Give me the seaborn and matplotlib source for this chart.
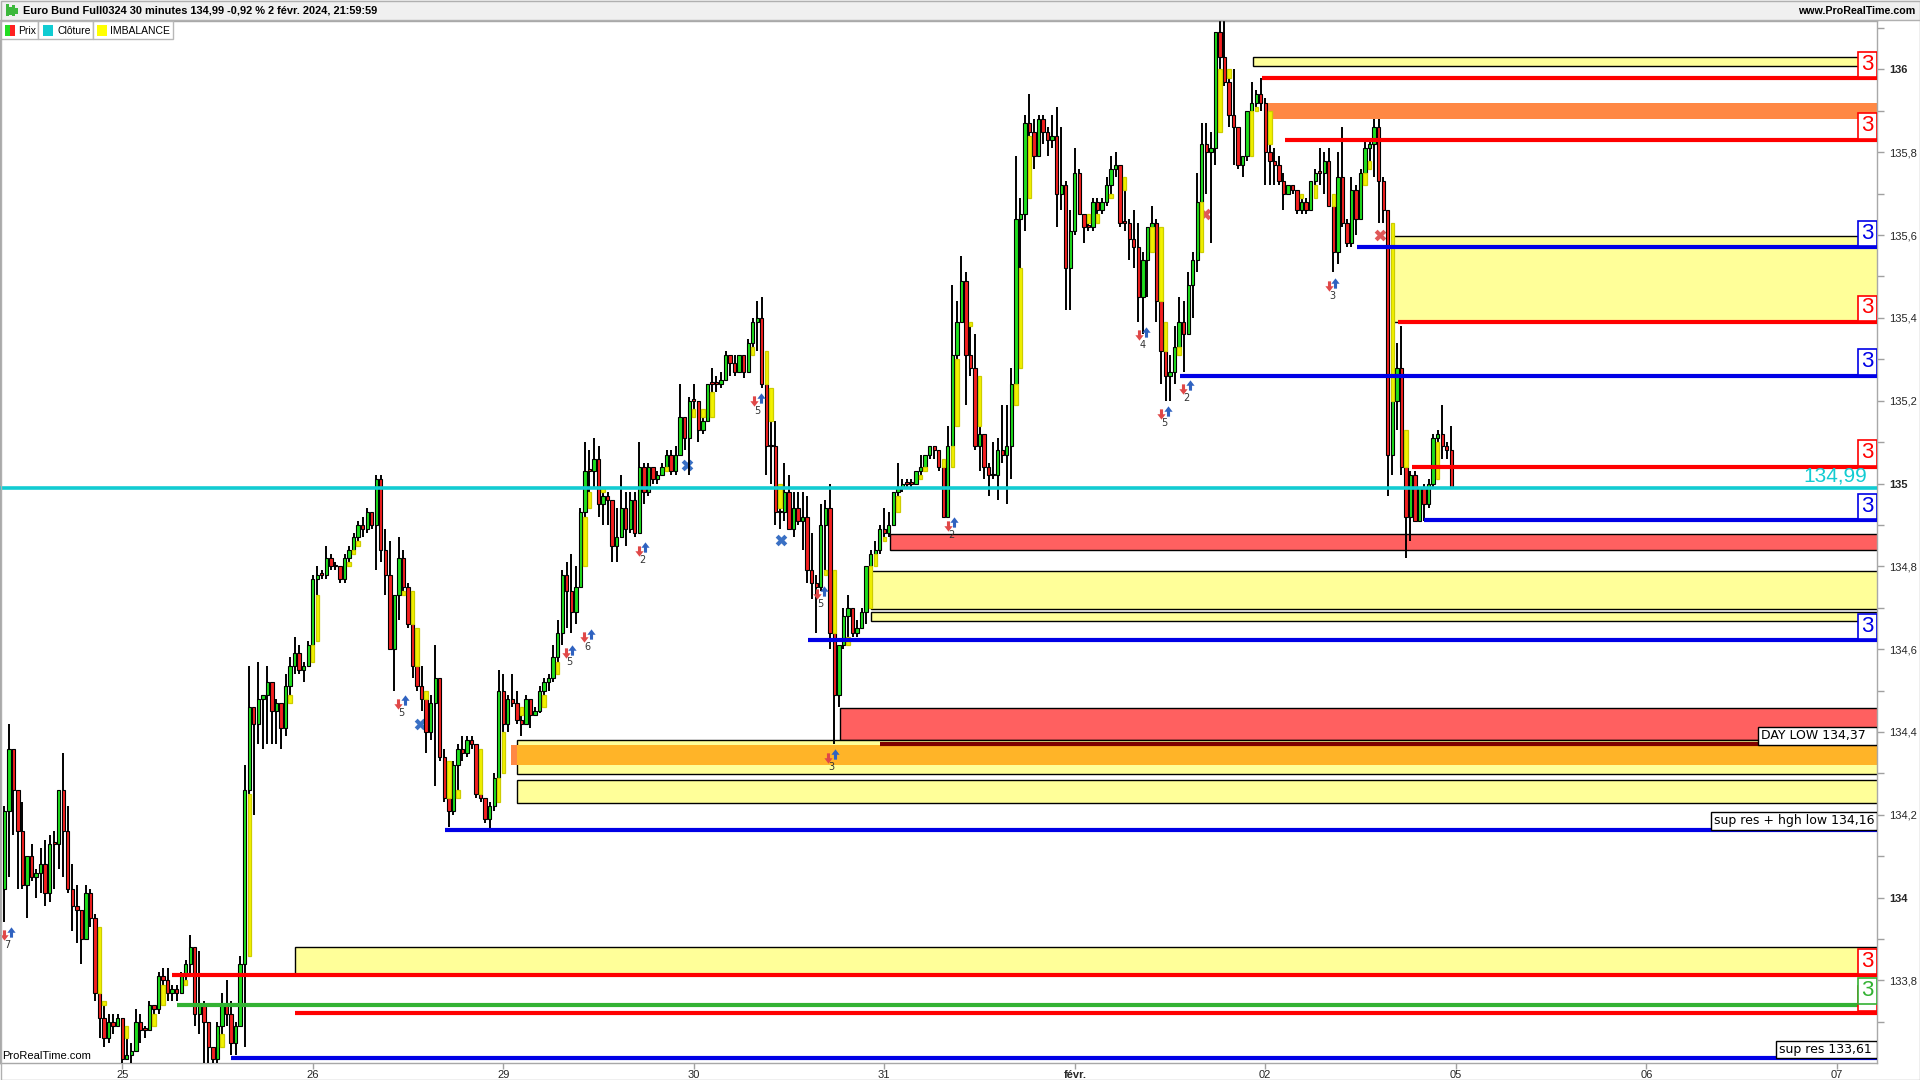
import numpy as np
import pandas as pd
import matplotlib
matplotlib.use("Agg")
import matplotlib.pyplot as plt
import seaborn as sns
from matplotlib.patches import Rectangle
from matplotlib.path import Path
from matplotlib.lines import Line2D

sns.set_theme(style="white")
plt.rcParams['font.family'] = ['Liberation Sans', 'DejaVu Sans']

# ---------------- data (30 min candles, Euro Bund) ----------------
first_open = 134.02
close = [134.21, 134.36, 134.26, 134.16, 134.03, 134.10, 134.05, 134.06, 134.08, 134.01,
         134.13, 134.13, 134.26, 134.16, 134.02, 133.98, 133.97, 133.90, 134.01, 133.95,
         133.77, 133.71, 133.66, 133.70, 133.69, 133.71, 133.61, 133.62, 133.63, 133.70,
         133.68, 133.68, 133.74, 133.73, 133.81, 133.80, 133.77, 133.78, 133.77, 133.81,
         133.84, 133.88, 133.72, 133.74, 133.70, 133.64, 133.61, 133.69, 133.74, 133.72,
         133.65, 133.69, 133.84, 134.26, 134.46, 134.42, 134.48, 134.49, 134.52, 134.45,
         134.47, 134.41, 134.51, 134.56, 134.59, 134.55, 134.56, 134.61, 134.77, 134.78,
         134.78, 134.82, 134.80, 134.80, 134.77, 134.82, 134.84, 134.87, 134.90, 134.89,
         134.93, 134.90, 135.01, 134.84, 134.78, 134.60, 134.73, 134.82, 134.75, 134.66,
         134.56, 134.51, 134.48, 134.40, 134.47, 134.53, 134.34, 134.24, 134.21, 134.32,
         134.36, 134.35, 134.38, 134.37, 134.25, 134.24, 134.19, 134.22, 134.29, 134.50,
         134.42, 134.48, 134.47, 134.43, 134.42, 134.48, 134.44, 134.45, 134.50, 134.52,
         134.53, 134.58, 134.64, 134.78, 134.74, 134.69, 134.75, 134.93, 135.03, 135.03,
         135.06, 134.95, 134.97, 134.96, 134.85, 134.87, 134.94, 134.89, 134.96, 134.88,
         135.04, 134.98, 135.04, 135.01, 135.02, 135.04, 135.07, 135.03, 135.07, 135.16,
         135.11, 135.20, 135.20, 135.13, 135.15, 135.24, 135.24, 135.24, 135.25, 135.31,
         135.29, 135.27, 135.31, 135.27, 135.34, 135.39, 135.40, 135.24, 135.09, 135.09,
         134.93, 134.93, 134.98, 134.89, 134.94, 134.91, 134.92, 134.79, 134.76, 134.75,
         134.90, 134.94, 134.64, 134.49, 134.61, 134.68, 134.70, 134.64, 134.65, 134.69,
         134.80, 134.83, 134.84, 134.89, 134.88, 134.90, 134.98, 134.99, 135.00, 135.00,
         135.00, 135.03, 135.04, 135.07, 135.09, 135.08, 135.04, 134.92, 135.09, 135.31,
         135.39, 135.49, 135.31, 135.28, 135.09, 135.12, 135.04, 135.02, 135.02, 135.08,
         135.07, 135.09, 135.24, 135.64, 135.65, 135.87, 135.85, 135.79, 135.88, 135.85,
         135.83, 135.84, 135.70, 135.72, 135.52, 135.61, 135.75, 135.65, 135.62, 135.62,
         135.68, 135.66, 135.68, 135.72, 135.76, 135.77, 135.63, 135.63, 135.59, 135.57,
         135.45, 135.54, 135.62, 135.63, 135.44, 135.32, 135.26, 135.27, 135.33, 135.39,
         135.36, 135.48, 135.54, 135.68, 135.82, 135.80, 135.81, 136.09, 136.03, 135.97,
         135.89, 135.86, 135.77, 135.79, 135.90, 135.92, 135.94, 135.92, 135.80, 135.78,
         135.77, 135.73, 135.70, 135.72, 135.71, 135.66, 135.68, 135.66, 135.73, 135.75,
         135.75, 135.78, 135.67, 135.56, 135.74, 135.63, 135.58, 135.71, 135.64, 135.75,
         135.81, 135.82, 135.86, 135.73, 135.66, 135.07, 135.20, 135.28, 135.04, 134.92,
         135.02, 134.91, 134.99, 134.95, 135.00, 135.11, 135.12, 135.09, 135.08, 134.99]
high = [134.22, 134.42, 134.36, 134.25, 134.23, 134.10, 134.13, 134.07, 134.12, 134.14,
        134.15, 134.16, 134.26, 134.35, 134.22, 134.08, 134.03, 133.97, 134.03, 134.02,
        133.96, 133.77, 133.74, 133.72, 133.72, 133.72, 133.65, 133.66, 133.65, 133.73,
        133.72, 133.69, 133.75, 133.74, 133.82, 133.83, 133.83, 133.79, 133.79, 133.82,
        133.85, 133.91, 133.88, 133.87, 133.75, 133.69, 133.64, 133.70, 133.77, 133.80,
        133.75, 133.70, 133.86, 134.32, 134.56, 134.46, 134.57, 134.49, 134.56, 134.52,
        134.48, 134.47, 134.54, 134.58, 134.63, 134.61, 134.57, 134.62, 134.78, 134.80,
        134.79, 134.85, 134.83, 134.81, 134.80, 134.83, 134.85, 134.88, 134.91, 134.92,
        134.94, 134.93, 135.02, 135.02, 134.89, 134.86, 134.73, 134.87, 134.84, 134.76,
        134.66, 134.56, 134.56, 134.48, 134.49, 134.61, 134.53, 134.36, 134.24, 134.33,
        134.37, 134.39, 134.39, 134.39, 134.37, 134.25, 134.24, 134.23, 134.30, 134.55,
        134.54, 134.49, 134.54, 134.50, 134.44, 134.49, 134.47, 134.46, 134.51, 134.53,
        134.54, 134.61, 134.67, 134.79, 134.81, 134.83, 134.80, 134.94, 135.10, 135.08,
        135.11, 135.09, 134.98, 134.98, 134.96, 134.94, 135.02, 134.98, 134.98, 134.98,
        135.10, 135.05, 135.05, 135.04, 135.03, 135.05, 135.08, 135.08, 135.09, 135.24,
        135.16, 135.21, 135.24, 135.20, 135.16, 135.24, 135.28, 135.26, 135.27, 135.32,
        135.31, 135.31, 135.31, 135.31, 135.35, 135.40, 135.44, 135.45, 135.24, 135.15,
        135.15, 134.94, 135.05, 135.02, 134.98, 134.98, 134.98, 134.97, 134.88, 134.78,
        134.95, 134.96, 135.00, 134.64, 134.61, 134.70, 134.73, 134.70, 134.67, 134.70,
        134.80, 134.84, 134.86, 134.90, 134.94, 134.93, 134.98, 135.05, 135.01, 135.01,
        135.01, 135.03, 135.07, 135.07, 135.09, 135.09, 135.08, 135.04, 135.14, 135.48,
        135.44, 135.55, 135.51, 135.38, 135.36, 135.14, 135.12, 135.05, 135.10, 135.11,
        135.19, 135.19, 135.28, 135.79, 135.69, 135.89, 135.94, 135.88, 135.89, 135.89,
        135.86, 135.89, 135.91, 135.86, 135.73, 135.66, 135.81, 135.76, 135.65, 135.63,
        135.69, 135.69, 135.69, 135.74, 135.79, 135.80, 135.77, 135.71, 135.64, 135.66,
        135.63, 135.56, 135.62, 135.67, 135.64, 135.44, 135.31, 135.31, 135.38, 135.45,
        135.44, 135.51, 135.56, 135.75, 135.87, 135.87, 135.85, 136.09, 136.12, 136.12,
        135.98, 136.00, 135.86, 135.79, 135.90, 135.97, 135.95, 135.98, 135.93, 135.82,
        135.81, 135.79, 135.75, 135.72, 135.72, 135.71, 135.69, 135.69, 135.73, 135.76,
        135.81, 135.80, 135.81, 135.67, 135.80, 135.86, 135.64, 135.74, 135.72, 135.76,
        135.83, 135.83, 135.88, 135.88, 135.74, 135.64, 135.20, 135.34, 135.38, 135.04,
        135.03, 135.03, 134.99, 135.00, 135.01, 135.12, 135.13, 135.19, 135.10, 135.14]
low = [133.94, 134.05, 134.15, 134.02, 134.02, 133.95, 134.04, 134.00, 134.01, 133.98,
       133.99, 134.02, 134.07, 134.05, 134.01, 133.92, 133.89, 133.84, 133.90, 133.93,
       133.75, 133.66, 133.64, 133.65, 133.67, 133.69, 133.60, 133.61, 133.60, 133.63,
       133.65, 133.66, 133.68, 133.72, 133.72, 133.79, 133.75, 133.75, 133.75, 133.77,
       133.80, 133.81, 133.69, 133.67, 133.60, 133.60, 133.60, 133.60, 133.67, 133.69,
       133.62, 133.62, 133.69, 133.64, 134.25, 134.20, 134.37, 134.36, 134.37, 134.37,
       134.37, 134.36, 134.39, 134.49, 134.54, 134.54, 134.52, 134.56, 134.65, 134.73,
       134.77, 134.77, 134.79, 134.79, 134.76, 134.76, 134.81, 134.84, 134.86, 134.87,
       134.88, 134.89, 134.79, 134.81, 134.73, 134.60, 134.50, 134.67, 134.74, 134.65,
       134.53, 134.50, 134.45, 134.35, 134.38, 134.27, 134.33, 134.23, 134.17, 134.20,
       134.26, 134.33, 134.34, 134.36, 134.24, 134.23, 134.18, 134.16, 134.21, 134.29,
       134.40, 134.40, 134.46, 134.42, 134.39, 134.42, 134.41, 134.44, 134.445, 134.49,
       134.50, 134.52, 134.57, 134.61, 134.65, 134.64, 134.66, 134.75, 134.92, 134.98,
       134.99, 134.92, 134.90, 134.90, 134.81, 134.81, 134.88, 134.85, 134.88, 134.87,
       134.88, 134.95, 134.97, 135.00, 135.00, 135.02, 135.04, 135.02, 135.02, 135.07,
       135.08, 135.02, 135.18, 135.10, 135.12, 135.15, 135.22, 135.22, 135.23, 135.25,
       135.26, 135.26, 135.27, 135.255, 135.27, 135.33, 135.32, 135.23, 135.02, 135.00,
       134.90, 134.89, 134.91, 134.89, 134.87, 134.90, 134.84, 134.76, 134.72, 134.64,
       134.74, 134.79, 134.60, 134.37, 134.46, 134.60, 134.63, 134.63, 134.63, 134.65,
       134.66, 134.80, 134.83, 134.83, 134.87, 134.87, 134.90, 134.97, 134.98, 134.99,
       134.99, 135.00, 135.02, 135.04, 135.06, 135.06, 135.03, 134.92, 134.92, 135.09,
       135.30, 135.39, 135.19, 135.26, 135.08, 135.03, 135.01, 134.97, 135.01, 134.96,
       135.05, 134.95, 135.01, 135.25, 135.52, 135.61, 135.84, 135.76, 135.79, 135.82,
       135.79, 135.81, 135.62, 135.66, 135.42, 135.42, 135.60, 135.65, 135.58, 135.61,
       135.61, 135.65, 135.65, 135.67, 135.70, 135.74, 135.62, 135.61, 135.54, 135.52,
       135.39, 135.36, 135.45, 135.62, 135.39, 135.24, 135.20, 135.20, 135.24, 135.33,
       135.27, 135.36, 135.40, 135.51, 135.68, 135.70, 135.58, 135.77, 136.00, 135.96,
       135.86, 135.77, 135.76, 135.74, 135.78, 135.90, 135.91, 135.90, 135.72, 135.72,
       135.72, 135.72, 135.66, 135.70, 135.70, 135.65, 135.65, 135.65, 135.66, 135.72,
       135.72, 135.70, 135.67, 135.51, 135.53, 135.62, 135.57, 135.57, 135.60, 135.65,
       135.75, 135.78, 135.74, 135.63, 135.63, 134.97, 135.02, 135.13, 135.02, 134.82,
       134.86, 134.91, 134.91, 134.91, 134.94, 134.99, 135.10, 135.06, 135.06, 134.99]

last_price = 134.99
day_tick_pos = [26, 68, 110, 152, 194, 236, 278, 320, 362, 404]
day_tick_lbl = ['25', '26', '29', '30', '31', 'févr.', '02', '05', '06', '07']

# zones (start candle index, low, high)
zone_start = [275.3, 278.0, 306.0, 195.3, 191.0, 191.0, 184.2, 113.0, 113.0, 64.1]
zone_lo = [136.009, 135.880, 135.390, 134.839, 134.698, 134.667, 134.381, 134.298, 134.228, 133.814]
zone_hi = [136.029, 135.918, 135.598, 134.878, 134.789, 134.690, 134.459, 134.380, 134.284, 133.880]
zone_kind = ['imb', 'ob', 'imb', 'sell', 'imb', 'imb', 'sell', 'imb', 'imb', 'imb']
band_start = [111.6, 113.0]
band_lo = [134.321, 134.321]
band_hi = [134.368, 134.368]
band_kind = ['ob', 'gold']

# horizontal levels
lvl_price = [135.979, 135.830, 135.571, 135.390, 135.260, 135.040, 134.911, 134.621,
             134.370, 134.163, 133.812, 133.741, 133.722, 133.612]
lvl_start = [277.3, 282.4, 298.2, 307.3, 259.2, 310.3, 313.0, 177.2,
             193.1, 97.1, 37.0, 38.0, 64.0, 50.0]
lvl_kind = ['res', 'res', 'sup', 'res', 'sup', 'res', 'sup', 'sup',
            'low', 'sup', 'res', 'mid', 'res', 'sup']
# badges; the lower red one is almost fully covered by the green one in the original
badge_price = [135.979, 135.830, 135.571, 135.390, 135.260, 135.040, 134.911, 134.621,
               133.812, 133.722, 133.741]
badge_kind = ['res', 'res', 'sup', 'res', 'sup', 'res', 'sup', 'sup', 'res', 'res', 'mid']
badge_text = ['3', '3', '3', '3', '3', '3', '3', '3', '3', '', '3']

note_text = ['DAY LOW 134,37', 'sup res + hgh low 134,16', 'sup res 133,61']
note_lo = [134.369, 134.163, 133.612]
note_hi = [134.412, 134.207, 133.653]
note_x0 = [386.6, 376.3, 390.6]

div_x = [0.7, 87.5, 124.5, 128.5, 140.6, 166.0, 180.0, 182.3, 208.7, 251.0, 255.7, 260.7, 292.7]
div_y = [133.913, 134.472, 134.595, 134.633, 134.842, 135.203, 134.736, 134.342, 134.902,
         135.362, 135.172, 135.233, 135.48]
div_n = ['7', '5', '5', '6', '2', '5', '5', '3', '2', '4', '5', '2', '3']

cross_x = [91.7, 150.5, 171.2, 303.3, 264.7]
cross_y = [134.42, 135.045, 134.864, 135.60, 135.65]
cross_kind = ['b', 'b', 'b', 'r', 'r']

# ---------------- styles ----------------
GREEN, RED = '#1EE01E', '#F52020'
CYAN = '#12CCD2'
LVL_COL = {'res': '#FF0000', 'sup': '#0000E6', 'low': '#800000', 'mid': '#33B233'}
ZONE_COL = {'imb': '#FFFF99', 'ob': '#FF8844', 'sell': '#FF6060', 'gold': '#FFB428'}

n = len(close)
df = pd.DataFrame({'c': close, 'h': high, 'l': low})
df['o'] = [first_open] + close[:-1]
df['h'] = df[['h', 'o', 'c']].max(axis=1)
df['l'] = df[['l', 'o', 'c']].min(axis=1)
df['x'] = np.arange(n)

W, H = 1920, 1080
PX0, PXW = 4.3, 4.536
AX_L, AX_R, AX_T, AX_B = 0, 1877, 21, 1063
YMIN, YMAX = 133.6005, 136.117

def ix(px):
    return (px - PX0) / PXW

fig = plt.figure(figsize=(19.2, 10.8), dpi=100)
fig.patch.set_facecolor('white')
ax = fig.add_axes([AX_L / W, 1 - AX_B / H, (AX_R - AX_L) / W, (AX_B - AX_T) / H])
ax.set_facecolor('white')
xmin, xmax = ix(AX_L), ix(AX_R)
ax.set_xlim(xmin, xmax)
ax.set_ylim(YMIN, YMAX)

# zones
for s, lo, hi, k in zip(zone_start, zone_lo, zone_hi, zone_kind):
    ec = 'none' if k == 'ob' else 'black'
    ax.add_patch(Rectangle((s, lo), xmax + 2 - s, hi - lo, facecolor=ZONE_COL[k],
                           edgecolor=ec, lw=1.0, zorder=1))
for s, lo, hi, k in zip(band_start, band_lo, band_hi, band_kind):
    ax.add_patch(Rectangle((s, lo), xmax + 2 - s, hi - lo, facecolor=ZONE_COL[k],
                           edgecolor='none', zorder=1.1))

# crosses (partly below candles)
for x, y, k in zip(cross_x, cross_y, cross_kind):
    ax.scatter([x], [y], marker='X', s=70, color='#3A70C4' if k == 'b' else '#E05858',
               linewidths=0, zorder=2.5)

# candles
colors = np.where(df.c > df.o, GREEN, RED)
ax.vlines(df.x, df.l, df.h, color='black', lw=1.4, zorder=3)
bottoms = np.minimum(df.o, df.c)
heights = np.maximum(np.abs(df.c - df.o), 0.004)
ax.bar(df.x, heights, bottom=bottoms, width=0.74, color=colors, edgecolor='black',
       linewidth=0.8, zorder=4)

# imbalance (fair value gaps)
for i in range(2, n):
    if df.l[i] > df.h[i - 2] + 0.004:
        lo, hi = df.h[i - 2], df.l[i]
    elif df.h[i] < df.l[i - 2] - 0.004:
        lo, hi = df.h[i], df.l[i - 2]
    else:
        continue
    ax.add_patch(Rectangle((i - 0.37, lo), 0.74, hi - lo, facecolor='#F2F200',
                           edgecolor='#CDCD00', lw=0.9, zorder=5))

# levels
for p, s, k in zip(lvl_price, lvl_start, lvl_kind):
    ax.hlines(p, s, xmax + 2, color=LVL_COL[k], lw=3.0, zorder=6)

# close line
sns.lineplot(x=[xmin, xmax], y=[last_price, last_price], color=CYAN, lw=2.6, ax=ax,
             zorder=6.5, legend=False)
ax.text(ix(1867), last_price + 0.004, '134,99', color=CYAN, fontsize=15,
        ha='right', va='bottom', zorder=9)

# divergence arrows
down = Path([(-0.3, 1), (0.3, 1), (0.3, 0.05), (0.8, 0.05), (0, -1), (-0.8, 0.05),
             (-0.3, 0.05), (-0.3, 1)],
            [Path.MOVETO] + [Path.LINETO] * 6 + [Path.CLOSEPOLY])
upv = Path([(-0.3, -1), (0.3, -1), (0.3, -0.05), (0.8, -0.05), (0, 1), (-0.8, -0.05),
            (-0.3, -0.05), (-0.3, -1)],
           [Path.MOVETO] + [Path.LINETO] * 6 + [Path.CLOSEPOLY])
ax.scatter(np.array(div_x) - 0.75, np.array(div_y) - 0.004, marker=down, s=55,
           color='#E04848', linewidths=0, zorder=7)
ax.scatter(np.array(div_x) + 0.75, np.array(div_y) + 0.004, marker=upv, s=55,
           color='#2F62C0', linewidths=0, zorder=7)
for x, y, t in zip(div_x, div_y, div_n):
    ax.text(x, y - 0.027, t, fontsize=7, color='#333333', ha='center', va='center',
            family='DejaVu Sans', zorder=7)

# badges "3"
bx0, bx1 = ix(1858), ix(1877)
for p, k, t in zip(badge_price, badge_kind, badge_text):
    c = LVL_COL[k]
    ax.add_patch(Rectangle((bx0, p + 0.003), bx1 - bx0, 0.061, facecolor='white',
                           edgecolor=c, lw=1.2, zorder=8))
    if t:
        ax.text((bx0 + bx1) / 2, p + 0.034, t, color=c, fontsize=16, ha='center',
                va='center', zorder=8.5)

# note boxes
for t, lo, hi, x0 in zip(note_text, note_lo, note_hi, note_x0):
    ax.add_patch(Rectangle((x0, lo), xmax - x0, hi - lo, facecolor='white',
                           edgecolor='black', lw=1.0, zorder=8))
    ax.text(x0 + 0.6, (lo + hi) / 2, t, fontsize=9, color='black', ha='left',
            va='center', family='DejaVu Sans', zorder=8.5)

# axes styling
for sp in ax.spines.values():
    sp.set_color('#A8A8A8')
    sp.set_linewidth(1.0)
ax.yaxis.tick_right()
major = [133.8, 134.0, 134.2, 134.4, 134.6, 134.8, 135.0, 135.2, 135.4, 135.6, 135.8, 136.0]
ax.set_yticks(major)
ax.set_yticklabels(['133,8', '134', '134,2', '134,4', '134,6', '134,8', '135', '135,2',
                    '135,4', '135,6', '135,8', '136'])
ax.set_yticks([133.7, 133.9, 134.1, 134.3, 134.5, 134.7, 134.9, 135.1, 135.3, 135.5,
               135.7, 135.9, 136.1], minor=True)
ax.tick_params(axis='y', which='both', direction='out', length=5, width=1,
               color='#A0A0A0', labelsize=8, pad=4, right=True, left=False)
for lab in ax.get_yticklabels():
    if ',' not in lab.get_text():
        lab.set_fontweight('bold')
ax.set_xticks(day_tick_pos)
ax.set_xticklabels(day_tick_lbl)
ax.tick_params(axis='x', which='both', direction='out', length=4, width=1,
               color='#A0A0A0', labelsize=8, pad=1, bottom=True)
for lab in ax.get_xticklabels():
    if lab.get_text() == 'févr.':
        lab.set_fontweight('bold')
ax.grid(False)

ax.text(ix(2), 133.618, 'ProRealTime.com', fontsize=8, color='black', ha='left',
        va='center', zorder=9)

# ---------------- header ----------------
def fr(x, y, w, h, **kw):
    fig.add_artist(Rectangle((x / W, 1 - (y + h) / H), w / W, h / H,
                             transform=fig.transFigure, **kw))

fr(0, 0, W, 20, facecolor='#F0F0F0', edgecolor='none')
fig.add_artist(Line2D([0, 1], [1 - 20 / H, 1 - 20 / H], transform=fig.transFigure,
                      color='#B0B0B0', lw=1))
for k, (cx, ch) in enumerate([(7, 12), (10, 8), (13, 11), (16, 6)]):
    fr(cx - 1, 10 - ch / 2 + (k % 2) * 1, 2.5, ch, facecolor='#3CB83C', edgecolor='none')
fig.text(23 / W, 1 - 10.5 / H, 'Euro Bund Full0324 30 minutes 134,99 -0,92 % 2 févr. 2024, 21:59:59',
         fontsize=7.9, fontweight='bold', ha='left', va='center', color='black')
fig.text(1915 / W, 1 - 10.5 / H, 'www.ProRealTime.com', fontsize=7.7,
         fontweight='bold', ha='right', va='center', color='black')

# legend cells
cells = [(0, 38, 'Prix'), (38, 55, 'Clôture'), (93, 80, 'IMBALANCE')]
for (x0, w, t) in cells:
    fr(x0, 21, w, 18, facecolor='white', edgecolor='#B8B8B8', lw=1)
fr(5, 25, 5, 11, facecolor='#22DD22', edgecolor='none')
fr(10, 25, 5, 11, facecolor='#FF2020', edgecolor='none')
fr(43, 25, 10, 11, facecolor='#10CCD2', edgecolor='none')
fr(97, 25, 10, 11, facecolor='#FFFF00', edgecolor='none')
for (x0, w, t), off in zip(cells, [18, 19, 17]):
    fig.text((x0 + off) / W, 1 - 30.5 / H, t, fontsize=7.5, ha='left', va='center',
             color='black')

# outer frame
fr(0.5, 0.5, W - 1, H - 1, facecolor='none', edgecolor='#B0B0B0', lw=1)

fig.savefig('out.png', dpi=100, facecolor='white')
